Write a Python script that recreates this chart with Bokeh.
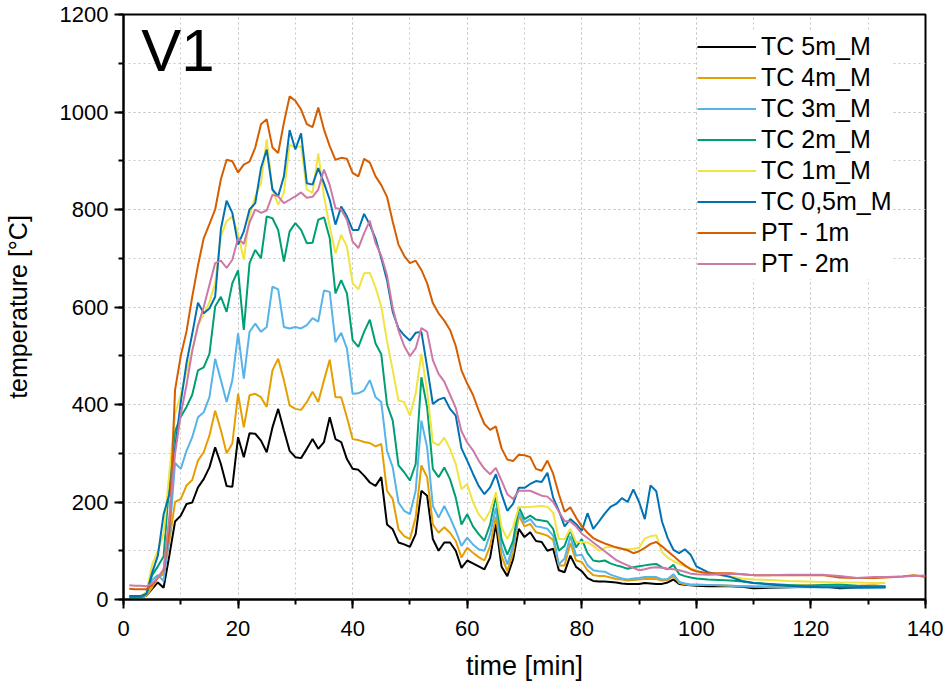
from bokeh.plotting import figure
from bokeh.models import Legend, LegendItem, Label, SingleIntervalTicker, Range1d
from bokeh.embed import file_html
from bokeh.resources import INLINE

# time axis (minutes); the PT probes were logged a bit longer
time_tc = list(range(1, 101)) + [102, 104, 106, 108, 110, 113, 116, 119, 122, 125, 128, 131, 133]
time_pt = time_tc + [136, 138, 140]

tc_5m = [3, 3, 3, 8, 22, 35, 24, 90, 160, 172,
         196, 199, 230, 247, 271, 312, 278, 233, 231, 333,
         292, 341, 340, 326, 302, 353, 391, 347, 305, 292,
         290, 309, 329, 309, 323, 374, 329, 323, 288, 268,
         266, 254, 240, 233, 251, 154, 144, 117, 113, 108,
         134, 223, 213, 124, 100, 117, 117, 100, 65, 80,
         74, 68, 62, 86, 155, 67, 48, 82, 145, 128,
         138, 120, 118, 100, 104, 60, 56, 90, 67, 58,
         44, 38, 37, 37, 36, 35, 33, 32, 32, 32,
         34, 33, 32, 32, 35, 41, 32, 30, 29, 28,
         27, 27, 27, 26, 23, 24, 25, 26, 27, 23, 24, 25, 25]

tc_4m = [3, 3, 3, 8, 25, 45, 52, 120, 200, 206,
         234, 245, 285, 302, 336, 387, 347, 300, 320, 422,
         353, 419, 422, 415, 395, 470, 494, 450, 398, 391,
         389, 405, 426, 405, 450, 492, 415, 415, 374, 329,
         327, 323, 321, 314, 319, 223, 206, 144, 130, 124,
         168, 275, 251, 154, 137, 148, 137, 120, 86, 106,
         96, 87, 80, 110, 170, 89, 58, 96, 172, 150,
         155, 138, 135, 131, 122, 70, 70, 116, 80, 77,
         60, 50, 48, 48, 45, 42, 41, 39, 40, 41,
         42, 42, 42, 39, 40, 48, 34, 31, 29, 30,
         30, 29, 28, 27, 27, 27, 28, 29, 28, 27, 28, 29, 27]

tc_3m = [3, 3, 3, 10, 40, 50, 38, 130, 280, 268,
         305, 333, 374, 384, 415, 494, 450, 405, 450, 546,
         453, 549, 566, 549, 559, 642, 636, 559, 556, 559,
         556, 563, 577, 570, 634, 631, 528, 547, 515, 422,
         423, 429, 450, 415, 405, 305, 271, 199, 182, 175,
         223, 367, 312, 192, 168, 192, 168, 141, 110, 127,
         113, 103, 100, 134, 188, 106, 72, 110, 180, 158,
         165, 150, 148, 145, 131, 72, 84, 130, 90, 92,
         70, 60, 58, 57, 51, 47, 43, 41, 43, 44,
         46, 46, 46, 41, 42, 52, 36, 33, 31, 31,
         30, 29, 28, 27, 26, 25, 25, 25, 25, 25, 24, 24, 25]

tc_2m = [3, 3, 4, 12, 50, 68, 88, 240, 345, 375,
         395, 420, 470, 476, 504, 601, 621, 590, 649, 675,
         553, 690, 717, 700, 786, 782, 758, 693, 755, 772,
         758, 731, 732, 779, 784, 741, 628, 655, 628, 532,
         518, 549, 574, 525, 503, 400, 367, 275, 261, 244,
         278, 456, 395, 268, 251, 271, 247, 209, 154, 175,
         150, 134, 121, 154, 213, 124, 92, 120, 190, 165,
         172, 164, 162, 160, 145, 100, 110, 143, 107, 124,
         95, 80, 78, 80, 74, 70, 67, 63, 66, 68,
         70, 72, 73, 66, 62, 71, 52, 48, 45, 43,
         41, 40, 39, 37, 34, 32, 30, 28, 30, 31, 28, 27, 27]

tc_1m = [7, 7, 7, 15, 72, 100, 135, 260, 380, 420,
         468, 510, 562, 585, 610, 649, 745, 776, 786, 751,
         697, 786, 827, 854, 944, 841, 810, 834, 933, 927,
         930, 841, 834, 915, 827, 765, 710, 748, 724, 649,
         636, 669, 670, 640, 601, 530, 470, 408, 405, 377,
         422, 504, 429, 323, 316, 332, 309, 278, 226, 237,
         200, 175, 161, 182, 220, 148, 124, 148, 189, 190,
         190, 191, 192, 190, 178, 124, 124, 145, 118, 118,
         117, 110, 100, 106, 108, 106, 104, 103, 104, 106,
         125, 130, 132, 97, 86, 79, 73, 68, 64, 59,
         52, 50, 47, 43, 41, 40, 38, 37, 36, 35, 35, 34, 34]

tc_05m = [7, 7, 7, 12, 55, 90, 175, 216, 310, 405,
          485, 545, 609, 587, 597, 621, 760, 818, 793, 728,
          755, 800, 813, 885, 923, 841, 827, 868, 963, 923,
          956, 854, 851, 885, 854, 820, 769, 806, 786, 758,
          758, 791, 769, 740, 700, 655, 590, 556, 542, 531,
          547, 549, 477, 401, 410, 414, 391, 377, 310, 285,
          258, 233, 216, 230, 257, 216, 182, 196, 229, 229,
          237, 243, 241, 260, 209, 182, 150, 165, 155, 141,
          177, 145, 160, 176, 190, 196, 208, 200, 226, 200,
          165, 234, 222, 160, 126, 102, 95, 103, 92, 68,
          56, 51, 46, 38, 34, 31, 28, 26, 25, 25, 25, 25, 25]

pt_1m = [22, 21, 21, 21, 30, 45, 60, 140, 430, 500,
         550, 621, 685, 741, 770, 800, 862, 902, 899, 876,
         892, 898, 927, 975, 985, 927, 916, 978, 1032, 1023,
         1005, 975, 969, 1009, 964, 930, 902, 906, 904, 875,
         868, 904, 896, 868, 850, 826, 775, 728, 705, 690,
         695, 676, 649, 608, 587, 572, 553, 520, 470, 443,
         420, 388, 360, 348, 355, 310, 287, 284, 297, 296,
         292, 268, 264, 285, 258, 216, 180, 189, 168, 150,
         137, 126, 120, 115, 111, 107, 104, 101, 95, 99,
         106, 114, 118, 109, 99, 89, 79, 70, 62, 58,
         54, 54, 54, 52, 50, 50, 50, 50, 50, 45, 44, 44, 45,
         47, 50, 46]

pt_2m = [29, 28, 28, 27, 33, 45, 62, 170, 299, 380,
         440, 510, 562, 600, 645, 690, 695, 680, 697, 741,
         729, 773, 800, 793, 798, 830, 827, 813, 820, 827,
         835, 824, 826, 841, 882, 850, 803, 800, 779, 734,
         721, 751, 777, 731, 705, 665, 598, 552, 520, 499,
         515, 557, 549, 491, 463, 447, 420, 393, 345, 322,
         306, 285, 268, 257, 270, 244, 216, 206, 223, 223,
         223, 218, 213, 211, 200, 180, 161, 160, 150, 135,
         126, 117, 108, 99, 90, 81, 75, 70, 65, 60,
         62, 65, 66, 65, 63, 62, 60, 57, 53, 52,
         51, 52, 53, 52, 50, 50, 51, 51, 51, 48, 44, 46, 46,
         47, 48, 49]

series = [
    ("TC 5m_M", time_tc, tc_5m, "#000000"),
    ("TC 4m_M", time_tc, tc_4m, "#E69F00"),
    ("TC 3m_M", time_tc, tc_3m, "#56B4E9"),
    ("TC 2m_M", time_tc, tc_2m, "#009E73"),
    ("TC 1m_M", time_tc, tc_1m, "#F0E442"),
    ("TC 0,5m_M", time_tc, tc_05m, "#0072B2"),
    ("PT - 1m", time_pt, pt_1m, "#D55E00"),
    ("PT - 2m", time_pt, pt_2m, "#CC79A7"),
]

FONT = "Liberation Sans"

p = figure(frame_width=802, frame_height=585,
           x_range=Range1d(0, 140), y_range=Range1d(0, 1200),
           output_backend="svg", toolbar_location=None,
           min_border_left=123, min_border_right=18,
           min_border_top=14, min_border_bottom=76)

p.xaxis.ticker = SingleIntervalTicker(interval=20, num_minor_ticks=2)
p.yaxis.ticker = SingleIntervalTicker(interval=200, num_minor_ticks=2)

for g in (p.xgrid, p.ygrid):
    g.grid_line_color = "#c8c8c8"
    g.grid_line_dash = "2 3"
    g.minor_grid_line_color = "#c8c8c8"
    g.minor_grid_line_dash = "2 3"

p.outline_line_color = "black"
p.outline_line_width = 2

p.axis.axis_line_width = 2
p.axis.major_tick_line_width = 2
p.axis.minor_tick_line_width = 2
p.axis.major_tick_in = 0
p.axis.major_tick_out = 9
p.axis.minor_tick_in = 0
p.axis.minor_tick_out = 5
p.axis.major_label_text_font = FONT
p.axis.major_label_text_font_size = "22px"
p.axis.major_label_text_color = "black"
p.axis.axis_label_text_font = FONT
p.axis.axis_label_text_font_style = "normal"
p.axis.axis_label_text_color = "black"

p.xaxis.major_label_standoff = 12
p.yaxis.major_label_standoff = 6

p.xaxis.axis_label = "time [min]"
p.xaxis.axis_label_text_font_size = "27px"
p.xaxis.axis_label_standoff = 12
p.yaxis.axis_label = "temperature [°C]"
p.yaxis.axis_label_text_font_size = "25px"
p.yaxis.axis_label_standoff = 25

items = []
for name, t, vals, color in series:
    r = p.line(t, vals, line_color=color, line_width=2)
    items.append(LegendItem(label=name, renderers=[r]))

legend = Legend(items=items, location=(574, 320),
                border_line_color=None, background_fill_color="white",
                background_fill_alpha=1.0, padding=4, margin=0, spacing=0,
                glyph_width=59, glyph_height=31, label_height=31,
                label_standoff=5, label_text_font=FONT,
                label_text_color="black", label_text_font_size="25px")
p.add_layout(legend)

p.add_layout(Label(x=3.1, y=1126, text="V1", text_font=FONT,
                   text_font_size="60px", text_color="black",
                   text_baseline="alphabetic"))

open("out.html", "w").write(file_html(p, INLINE))
